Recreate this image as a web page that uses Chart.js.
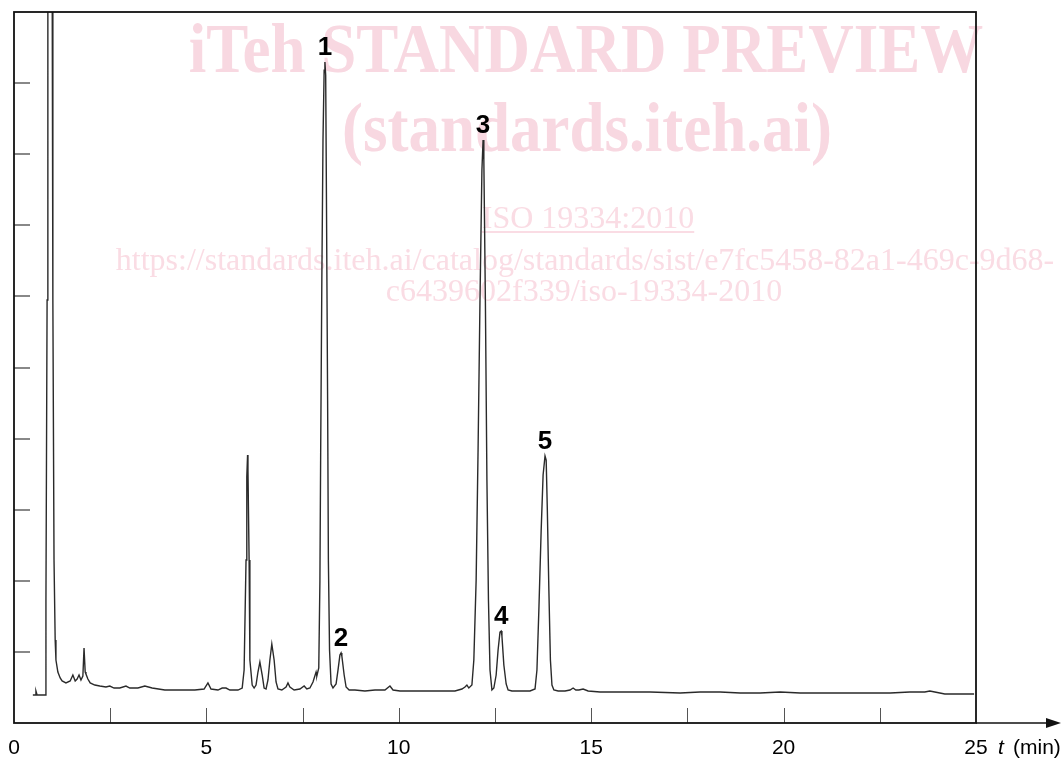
<!DOCTYPE html>
<html>
<head>
<meta charset="utf-8">
<script src="https://cdn.jsdelivr.net/npm/chart.js@4.4.0/dist/chart.umd.min.js"></script>
<style>
  html, body { margin: 0; padding: 0; background: #fff; }
</style>
</head>
<body>
<canvas id="chart" width="1061" height="760"></canvas>
<script>
// retention time (min) and detector signal (arbitrary units, 0-100 = full frame)
const times = [
  0.49, 0.55, 0.57, 0.60, 0.81, 0.83, 0.86, 0.88, 0.99, 1.01, 1.04, 1.07, 1.09, 1.14, 1.20, 1.25,
  1.35, 1.46, 1.53, 1.59, 1.64, 1.69, 1.74, 1.79, 1.82, 1.85, 1.87, 1.92, 1.98, 2.10, 2.23, 2.39,
  2.49, 2.60, 2.75, 2.91, 3.01, 3.22, 3.40, 3.59, 3.92, 4.31, 4.70, 4.94, 5.04, 5.12, 5.30, 5.41,
  5.51, 5.61, 5.82, 5.93, 5.98, 6.03, 6.05, 6.07, 6.08, 6.11, 6.13, 6.19, 6.24, 6.29, 6.34, 6.39,
  6.45, 6.50, 6.55, 6.60, 6.65, 6.70, 6.76, 6.81, 6.86, 6.96, 7.07, 7.12, 7.17, 7.28, 7.43, 7.54,
  7.61, 7.69, 7.77, 7.85, 7.87, 7.92, 7.95, 7.97, 8.00, 8.03, 8.06, 8.08, 8.10, 8.12, 8.15, 8.17,
  8.20, 8.24, 8.29, 8.37, 8.42, 8.47, 8.50, 8.52, 8.58, 8.63, 8.71, 8.86, 9.12, 9.38, 9.64, 9.77,
  9.85, 10.03, 10.55, 11.07, 11.46, 11.64, 11.72, 11.77, 11.82, 11.90, 11.95, 12.01, 12.06, 12.11, 12.16, 12.19,
  12.21, 12.25, 12.29, 12.33, 12.37, 12.42, 12.47, 12.53, 12.58, 12.63, 12.66, 12.68, 12.73, 12.79, 12.84, 12.94,
  13.15, 13.41, 13.54, 13.59, 13.64, 13.70, 13.75, 13.80, 13.83, 13.86, 13.90, 13.94, 13.98, 14.03, 14.14, 14.32,
  14.45, 14.53, 14.60, 14.68, 14.79, 14.92, 15.23, 15.75, 16.53, 17.31, 17.83, 18.35, 18.87, 19.39, 19.91, 20.43,
  21.21, 21.99, 22.77, 23.28, 23.67, 23.80, 23.93, 24.19, 24.58, 24.95
];
const signal = [
  3.94, 3.94, 4.50, 3.94, 3.94, 17.30, 59.5, 110, 110, 59.5, 22.93, 11.67, 8.86, 7.17, 6.33, 5.91,
  5.63, 5.91, 6.75, 5.91, 6.19, 6.75, 6.05, 6.61, 10.55, 7.17, 6.89, 6.19, 5.63, 5.34, 5.20, 5.06,
  5.20, 4.92, 4.92, 5.20, 4.92, 4.92, 5.20, 4.92, 4.64, 4.64, 4.64, 4.78, 5.63, 4.78, 4.64, 4.92,
  4.92, 4.64, 4.64, 4.92, 7.45, 22.93, 34.60, 37.69, 35.58, 22.93, 8.86, 5.34, 4.92, 5.34, 7.17, 8.58,
  6.75, 4.92, 4.78, 6.05, 8.86, 11.11, 8.86, 5.77, 4.78, 4.64, 5.06, 5.63, 5.06, 4.64, 4.78, 5.20,
  4.78, 4.92, 5.77, 7.17, 6.61, 7.74, 20.0, 38.40, 62.31, 82.0, 91.8, 92.97, 91.1, 73.6, 45.4, 22.93,
  10.27, 5.49, 4.92, 5.49, 7.45, 9.56, 9.85, 9.42, 6.75, 5.06, 4.64, 4.64, 4.50, 4.64, 4.64, 5.20,
  4.64, 4.50, 4.50, 4.50, 4.50, 4.78, 5.06, 5.34, 4.92, 5.34, 8.86, 20.11, 38.40, 59.5, 77.78, 82.0,
  79.18, 59.5, 34.18, 17.30, 7.45, 4.64, 4.92, 6.75, 10.27, 12.80, 12.94, 12.24, 8.16, 5.49, 4.64, 4.50,
  4.50, 4.50, 4.78, 7.45, 15.89, 27.15, 34.88, 37.55, 36.99, 29.96, 18.71, 8.86, 5.34, 4.64, 4.50, 4.50,
  4.64, 4.92, 4.64, 4.64, 4.78, 4.50, 4.36, 4.36, 4.36, 4.22, 4.36, 4.36, 4.22, 4.22, 4.36, 4.22,
  4.22, 4.22, 4.22, 4.36, 4.36, 4.50, 4.36, 4.08, 4.08, 4.08
];

const xTickLabels = [0, 5, 10, 15, 20, 25];
const axisUnit = ['t', '(min)'];

const peakLabels = ['1', '2', '3', '4', '5'];
const peakTimes = [8.08, 8.50, 12.19, 12.66, 13.80];
const peakHeights = [92.97, 9.85, 82.0, 12.94, 37.55];

const watermarkTitle = ['iTeh STANDARD PREVIEW', '(standards.iteh.ai)'];
const watermarkLines = [
  'ISO 19334:2010',
  'https://standards.iteh.ai/catalog/standards/sist/e7fc5458-82a1-469c-9d68-',
  'c6439602f339/iso-19334-2010'
];

function tallText(ctx, text, x, y, sy) {
  ctx.save();
  ctx.translate(x, y);
  ctx.scale(1, sy);
  ctx.fillText(text, 0, 0);
  ctx.restore();
}

const frame = {
  id: 'frame',
  beforeDraw(chart) {
    const ctx = chart.ctx;
    ctx.save();
    ctx.textAlign = 'center';
    ctx.textBaseline = 'alphabetic';
    ctx.fillStyle = '#f8d8e1';
    ctx.font = 'bold 63px "Liberation Serif", "Times New Roman", serif';
    tallText(ctx, watermarkTitle[0], 586, 72, 1.1);
    tallText(ctx, watermarkTitle[1], 587, 151, 1.1);

    ctx.fillStyle = '#fadce4';
    ctx.font = '32px "Liberation Serif", "Times New Roman", serif';
    ctx.fillText(watermarkLines[0], 588, 228);
    const w = ctx.measureText(watermarkLines[0]).width;
    ctx.fillRect(588 - w / 2, 231, w, 2);
    ctx.fillText(watermarkLines[1], 585, 270);
    ctx.fillText(watermarkLines[2], 584, 301);
    ctx.restore();
  },
  afterDatasetsDraw(chart) {
    const { ctx, chartArea: a, scales: { x, y } } = chart;
    ctx.save();

    // inner tick marks
    ctx.strokeStyle = '#555';
    ctx.lineWidth = 1;
    x.ticks.forEach(t => {
      if (t.value <= 0 || t.value >= 25) return;
      const px = Math.round(x.getPixelForValue(t.value)) + 0.5;
      ctx.beginPath();
      ctx.moveTo(px, a.bottom);
      ctx.lineTo(px, a.bottom - 15);
      ctx.stroke();
    });
    ctx.strokeStyle = '#888';
    ctx.lineWidth = 2;
    y.ticks.forEach(t => {
      if (t.value <= 0 || t.value >= 100) return;
      const py = Math.round(y.getPixelForValue(t.value));
      ctx.beginPath();
      ctx.moveTo(a.left, py);
      ctx.lineTo(a.left + 16, py);
      ctx.stroke();
    });

    // frame
    ctx.strokeStyle = '#111';
    ctx.lineWidth = 1.8;
    ctx.strokeRect(a.left, a.top, a.right - a.left, a.bottom - a.top);

    // axis arrow
    ctx.lineWidth = 1.6;
    ctx.beginPath();
    ctx.moveTo(a.right, a.bottom);
    ctx.lineTo(1050, a.bottom);
    ctx.stroke();
    ctx.fillStyle = '#111';
    ctx.beginPath();
    ctx.moveTo(1061, a.bottom);
    ctx.lineTo(1046, a.bottom - 5);
    ctx.lineTo(1046, a.bottom + 5);
    ctx.closePath();
    ctx.fill();

    // peak numbers
    ctx.fillStyle = '#000';
    ctx.font = 'bold 26px "Liberation Sans", Arial, sans-serif';
    ctx.textAlign = 'center';
    ctx.textBaseline = 'alphabetic';
    peakLabels.forEach((lab, i) => {
      ctx.fillText(lab, x.getPixelForValue(peakTimes[i]), y.getPixelForValue(peakHeights[i]) - 7);
    });

    // axis unit after the last tick label
    const ux = x.getPixelForValue(25) + 22;
    const uy = a.bottom + 25;
    ctx.textAlign = 'left';
    ctx.textBaseline = 'middle';
    ctx.font = 'italic 21px "Liberation Sans", Arial, sans-serif';
    ctx.fillText(axisUnit[0], ux, uy);
    ctx.font = '21px "Liberation Sans", Arial, sans-serif';
    ctx.fillText(axisUnit[1], ux + 15, uy);

    ctx.restore();
  }
};

new Chart(document.getElementById('chart'), {
  type: 'scatter',
  data: {
    datasets: [{
      data: times.map((t, i) => ({ x: t, y: signal[i] })),
      showLine: true,
      borderColor: '#2a2a2a',
      borderWidth: 1.4,
      pointRadius: 0,
      tension: 0
    }]
  },
  options: {
    responsive: false,
    animation: false,
    layout: { padding: { left: 0, right: 85, top: 12, bottom: 0 } },
    plugins: { legend: { display: false }, tooltip: { enabled: false } },
    scales: {
      x: {
        type: 'linear',
        min: 0,
        max: 25,
        grid: { display: false, drawTicks: false },
        border: { display: false },
        ticks: {
          stepSize: 2.5,
          autoSkip: false,
          maxRotation: 0,
          padding: 13,
          color: '#000',
          font: { family: '"Liberation Sans", Arial, sans-serif', size: 21 },
          callback: v => xTickLabels.includes(v) ? String(v) : ''
        },
        afterFit: s => { s.height = 37; s.paddingLeft = 0; s.paddingRight = 0; }
      },
      y: {
        min: 0,
        max: 100,
        grid: { display: false, drawTicks: false },
        border: { display: false },
        ticks: { stepSize: 10, display: false },
        afterFit: s => { s.width = 14; }
      }
    }
  },
  plugins: [frame]
});
</script>
</body>
</html>
